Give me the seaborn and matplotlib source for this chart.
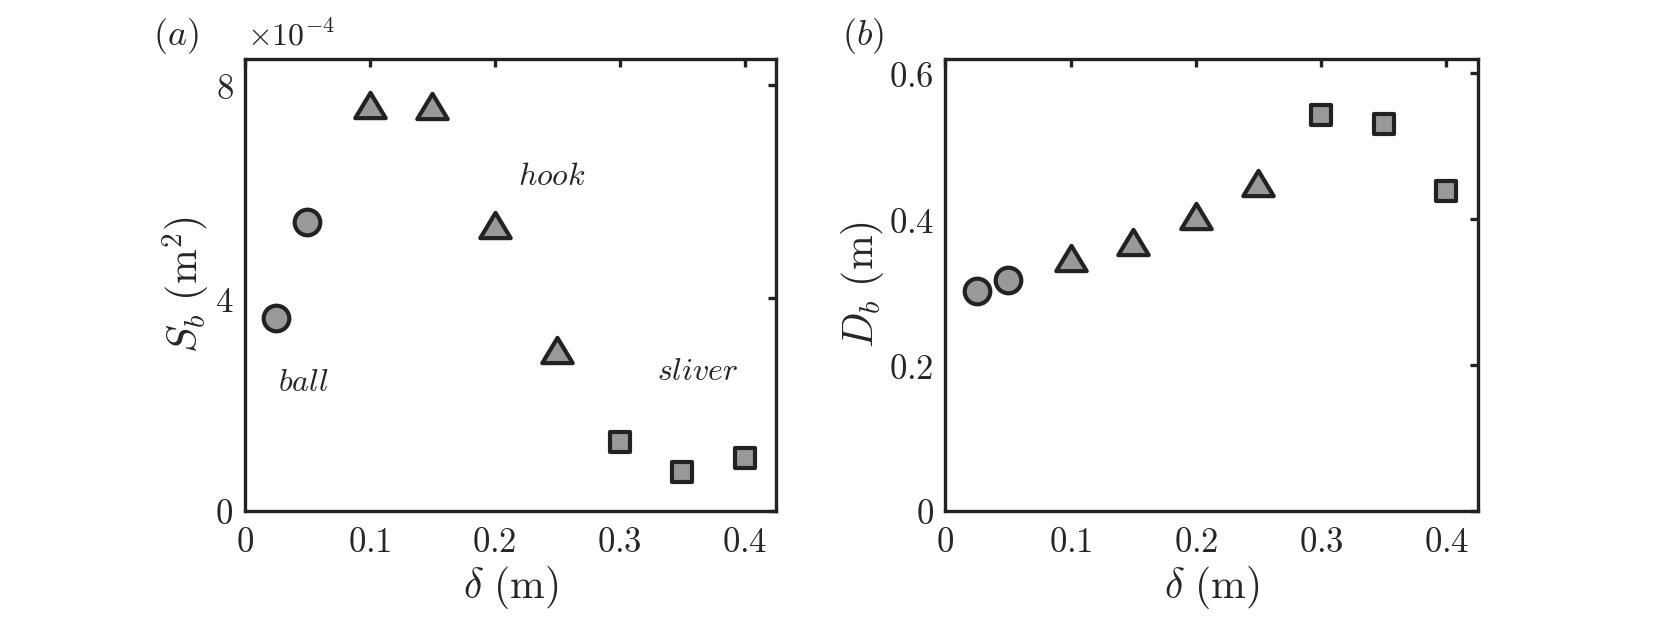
import matplotlib
matplotlib.use("Agg", force=True)
import matplotlib.pyplot as plt
import numpy as np
import pandas as pd
import seaborn as sns
from matplotlib.path import Path
from matplotlib.ticker import FuncFormatter

# values
delta = [0.025, 0.05, 0.1, 0.15, 0.2, 0.25, 0.3, 0.35, 0.4]
regime = ["ball", "ball", "hook", "hook", "hook", "hook", "sliver", "sliver", "sliver"]
area_b = [3.62e-4, 5.42e-4, 7.62e-4, 7.60e-4, 5.38e-4, 3.02e-4, 1.30e-4, 0.74e-4, 1.00e-4]
diam_b = [0.301, 0.317, 0.347, 0.369, 0.404, 0.450, 0.542, 0.530, 0.438]

x_ticks = [0, 0.1, 0.2, 0.3, 0.4]
area_ticks = [0, 4e-4, 8e-4]
diam_ticks = [0, 0.2, 0.4, 0.6]

# regime label positions (delta, S_b)
label_text = ["ball", "hook", "sliver"]
label_x = [0.047, 0.246, 0.362]
label_y = [2.42e-4, 6.28e-4, 2.62e-4]

df = pd.DataFrame({"delta": delta, "regime": regime, "area": area_b, "diam": diam_b})

sns.set_style("white")
plt.rcParams["mathtext.fontset"] = "cm"
plt.rcParams["font.family"] = ["DejaVu Serif"]

FS_TICK = 25
FS_LABEL = 30
FS_TEXT = 23
EDGE = "#222222"
FACE = "#999999"
tri = Path([(0, 0.83), (-1, -0.83), (1, -0.83), (0, 0.83)], closed=True)
marker_spec = {"ball": ("o", 340), "hook": (tri, 480), "sliver": ("s", 200)}

fig = plt.figure(figsize=(16.67, 6.25), dpi=100)
ax_a = fig.add_axes([0.1467, 0.1824, 0.3189, 0.724])
ax_b = fig.add_axes([0.567, 0.1824, 0.3195, 0.724])


def draw(ax, ycol):
    for name, (mk, size) in marker_spec.items():
        sub = df[df["regime"] == name]
        sns.scatterplot(data=sub, x="delta", y=ycol, ax=ax, marker=mk, s=size,
                        color=FACE, edgecolor=EDGE, linewidth=3.0, zorder=3)
    ax.set_xlim(0, 0.425)
    ax.set_xticks(x_ticks)
    ax.xaxis.set_major_formatter(FuncFormatter(lambda v, p: f"${v:g}$"))
    ax.set_xlabel(r"$\delta\ (\mathrm{m})$", fontsize=FS_LABEL, labelpad=4)
    ax.tick_params(direction="in", top=True, right=True, length=6, width=2.4,
                   color=EDGE, labelsize=FS_TICK, pad=10)
    ax.tick_params(axis="y", pad=8)
    for sp in ax.spines.values():
        sp.set_linewidth(2.4)
        sp.set_color(EDGE)
        sp.set_visible(True)


draw(ax_a, "area")
ax_a.set_ylim(0, 8.5e-4)
ax_a.set_yticks(area_ticks)
ax_a.yaxis.set_major_formatter(FuncFormatter(lambda v, p: f"${v * 1e4:g}$"))
ax_a.set_ylabel(r"$S_b\ (\mathrm{m}^2)$", fontsize=FS_LABEL, labelpad=2)
for t, lx, ly in zip(label_text, label_x, label_y):
    ax_a.text(lx, ly, rf"$\it{{{t}}}$", fontsize=FS_TEXT, ha="center", va="center")

draw(ax_b, "diam")
ax_b.set_ylim(0, 0.62)
ax_b.set_yticks(diam_ticks)
ax_b.yaxis.set_major_formatter(FuncFormatter(lambda v, p: f"${v:g}$"))
ax_b.set_ylabel(r"$D_b\ (\mathrm{m})$", fontsize=FS_LABEL, labelpad=2)

fig.text(0.1056, 0.942, r"$(a)$", fontsize=26, ha="center", va="center")
fig.text(0.518, 0.942, r"$(b)$", fontsize=26, ha="center", va="center")
fig.text(0.148, 0.942, r"$\times 10^{-4}$", fontsize=FS_TEXT, ha="left", va="center")

fig.savefig("out.png", dpi=100)
